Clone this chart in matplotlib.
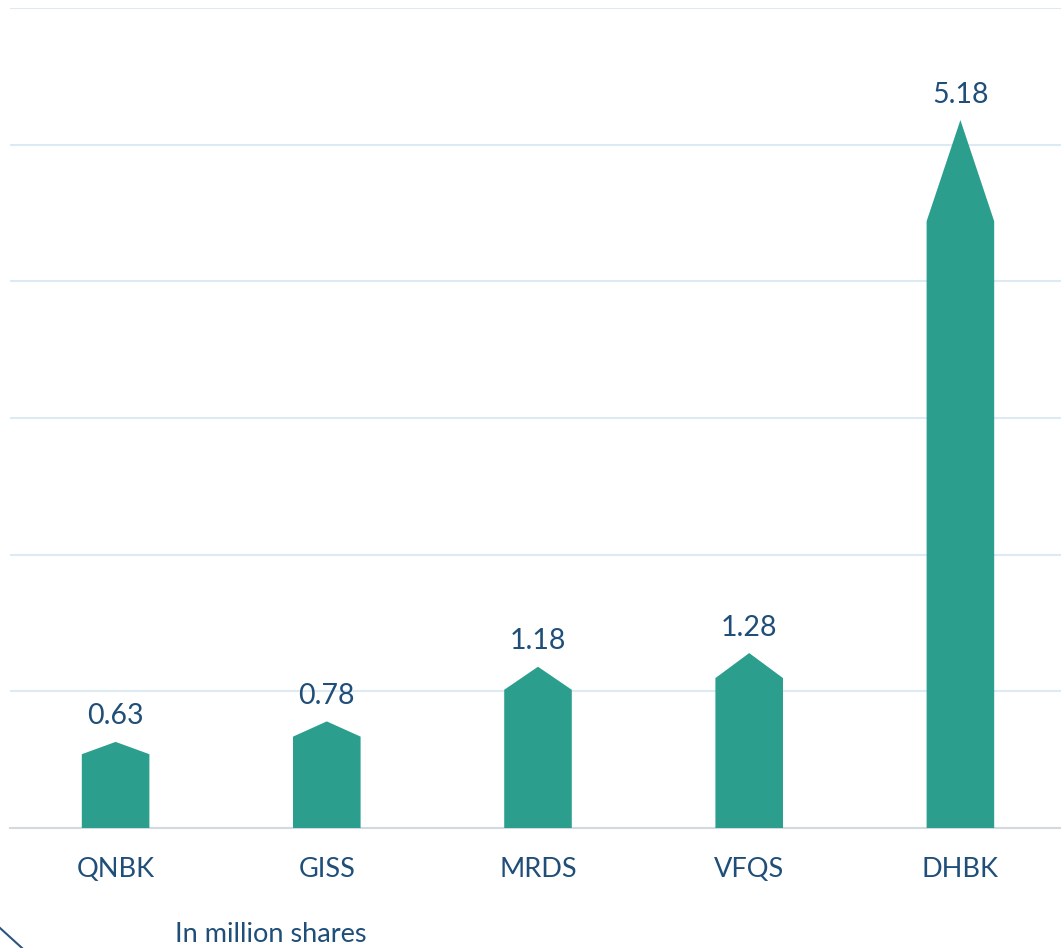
import matplotlib.pyplot as plt
from matplotlib.patches import Polygon
from matplotlib.lines import Line2D

# values in million shares
tickers = ["QNBK", "GISS", "MRDS", "VFQS", "DHBK"]
volumes = [0.63, 0.78, 1.18, 1.28, 5.18]

bar_color = "#2b9e8e"
text_color = "#1f4e79"
grid_color = "#dde9f3"

fig = plt.figure(figsize=(10.61, 9.48), dpi=100)
ax = fig.add_axes([10 / 1061, 1 - 828 / 948, 1056 / 1061, (828 - 8) / 948])

width = 0.32
tip = 0.143  # arrow point is a fraction of bar height
for i, v in enumerate(volumes):
    sh = v * (1 - tip)
    pts = [(i - width / 2, 0), (i - width / 2, sh), (i, v),
           (i + width / 2, sh), (i + width / 2, 0)]
    ax.add_patch(Polygon(pts, closed=True, facecolor=bar_color,
                         edgecolor="none", zorder=3))
    ax.annotate(f"{v:.2f}", (i, v), xytext=(0, 9), textcoords="offset points",
                ha="center", va="bottom", fontsize=20.5, color=text_color,
                family="Lato")

ax.set_xlim(-0.5, len(tickers) - 0.5)
ax.set_ylim(0, 6)
ax.set_yticks(range(0, 7))
ax.yaxis.grid(True, color=grid_color, linewidth=1.5)
ax.set_axisbelow(True)
ax.tick_params(axis="y", left=False, labelleft=False)
ax.set_xticks(range(len(tickers)))
ax.set_xticklabels(tickers, fontsize=19.5, color=text_color, family="Lato")
ax.tick_params(axis="x", length=0, pad=21)
for s in ["top", "right", "left"]:
    ax.spines[s].set_visible(False)
ax.spines["bottom"].set_color("#d3d9df")
ax.spines["bottom"].set_linewidth(1.5)

fig.text(175 / 1061, 1 - 934 / 948, "In million shares", fontsize=19.5,
         color=text_color, va="center", ha="left", family="Lato")

# decorative stroke in the corner
fig.add_artist(Line2D([0, 22 / 1061], [1 - 928 / 948, 0], transform=fig.transFigure,
                      color="#2a5580", linewidth=1.5))

fig.savefig("out.png", dpi=100)
